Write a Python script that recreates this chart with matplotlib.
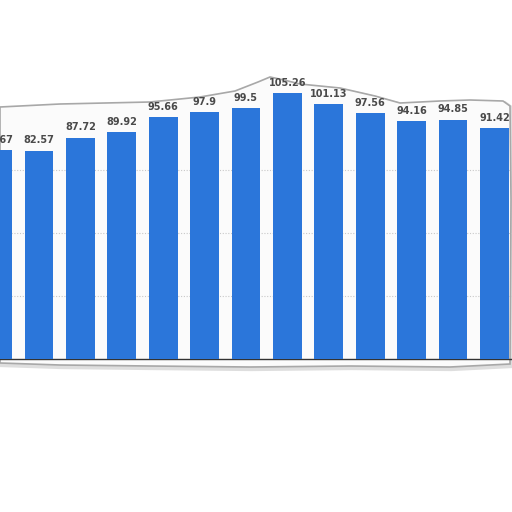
import numpy as np
import matplotlib.pyplot as plt
from matplotlib.patches import Polygon

# data (first bar is cut off at the left edge, only "..67" readable)
values = [82.67, 82.57, 87.72, 89.92, 95.66, 97.9, 99.5,
          105.26, 101.13, 97.56, 94.16, 94.85, 91.42]
labels = ['82.67', '82.57', '87.72', '89.92', '95.66', '97.9', '99.5',
          '105.26', '101.13', '97.56', '94.16', '94.85', '91.42']
grid_vals = [25, 50, 75]

bar_color = '#2b76da'
W = 512

fig = plt.figure(figsize=(5.12, 5.12), dpi=100)
fig.patch.set_facecolor('white')

# torn paper outline (pixel coords, y from top)
edge = [(0, 107), (60, 104), (150, 102), (200, 97), (235, 91), (258, 82),
        (270, 77), (284, 80), (300, 84), (340, 88), (375, 96), (400, 103),
        (440, 101), (470, 100), (503, 101), (510, 106), (511, 200),
        (510, 364), (450, 367), (350, 366), (250, 367), (150, 366),
        (60, 365), (0, 363)]
pts = np.array([(x / W, 1 - y / W) for x, y in edge])
shadow = Polygon(pts + [0.003, -0.004], closed=True, transform=fig.transFigure,
                 facecolor='none', edgecolor='#dedede', lw=3, zorder=0)
paper = Polygon(pts, closed=True, transform=fig.transFigure,
                facecolor='#fbfbfb', edgecolor='#a8a8a8', lw=1.2, zorder=1)
fig.patches.extend([shadow, paper])

ax = fig.add_axes([0, (W - 359) / W, 1, 303 / W])
ax.set_facecolor('none')
ax.set_zorder(2)

x = np.arange(len(values))
ax.bar(x, values, width=0.70, color=bar_color, zorder=3)
for xi, v, lab in zip(x, values, labels):
    ax.text(xi, v + 2.0, lab, ha='center', va='bottom', fontsize=7,
            fontweight='bold', color='#4a4a4a', zorder=4)

for g in grid_vals:
    ax.axhline(g, color='#c8c8c8', lw=0.8, ls=(0, (1, 1.5)), zorder=2)

ax.set_xlim(2.4 / 41.4, (W + 2.4) / 41.4)
ax.set_ylim(0, 120)
for s in ['top', 'right', 'left']:
    ax.spines[s].set_visible(False)
ax.spines['bottom'].set_color('#333333')
ax.spines['bottom'].set_linewidth(1.0)
ax.set_xticks([])
ax.set_yticks([])

fig.savefig('out.png', dpi=100, facecolor='white')
